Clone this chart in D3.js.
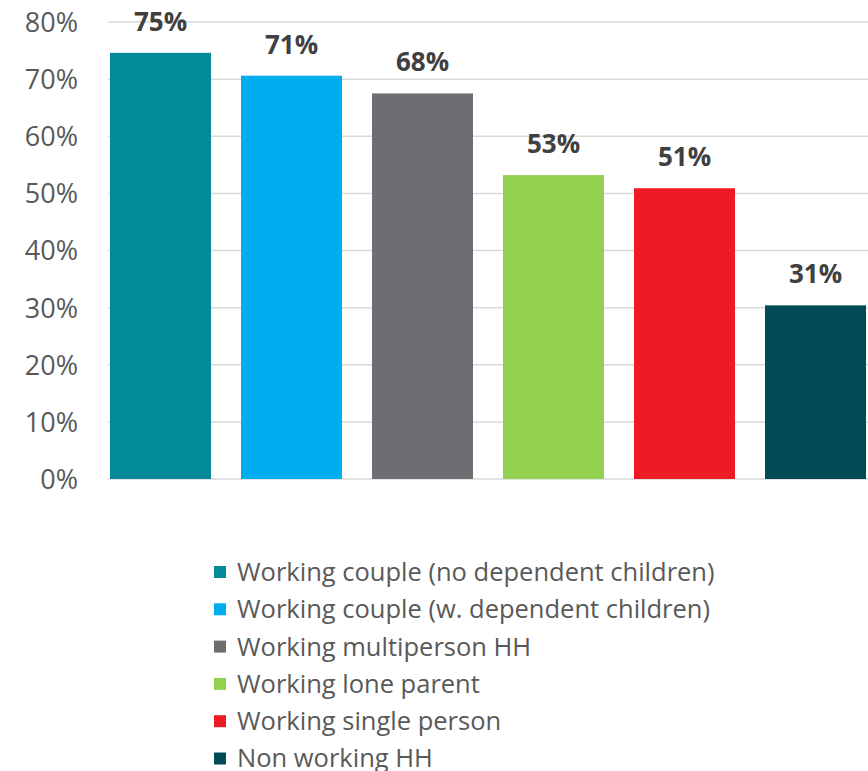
<!DOCTYPE html>
<html>
<head>
<meta charset="utf-8">
<script src="https://cdn.jsdelivr.net/npm/d3@7"></script>
<style>
  body { margin: 0; background: #fff; }
  text { font-family: "Open Sans", sans-serif; }
</style>
</head>
<body>
<div id="chart-area"></div>
<script>
// data
const categories = [
  'Working couple (no dependent children)',
  'Working couple (w. dependent children)',
  'Working multiperson HH',
  'Working lone parent',
  'Working single person',
  'Non working HH'
];
const values = [0.746, 0.706, 0.675, 0.532, 0.509, 0.304];
const valueLabels = ['75%', '71%', '68%', '53%', '51%', '31%'];
const colors = ['#028a99', '#00aeef', '#6d6e71', '#92d050', '#ed1c24', '#004b55'];
const yTicks = [0, 0.1, 0.2, 0.3, 0.4, 0.5, 0.6, 0.7, 0.8];

const width = 868;
const height = 771;

const svg = d3.select('#chart-area')
  .append('svg')
  .attr('width', width)
  .attr('height', height);

// scales
const x = d3.scaleBand()
  .domain(categories)
  .range([95, 881])
  .paddingInner(0.229)
  .paddingOuter(0.1145);

const y = d3.scaleLinear()
  .domain([0, 0.8])
  .range([479, 22]);

// gridlines
svg.append('g')
  .attr('class', 'grid')
  .selectAll('line')
  .data(yTicks)
  .enter()
  .append('line')
  .attr('x1', 108)
  .attr('x2', 881)
  .attr('y1', d => y(d))
  .attr('y2', d => y(d))
  .attr('stroke', '#d9d9d9')
  .attr('stroke-width', 1.5);

// y axis
const yAxisCall = d3.axisLeft(y)
  .tickValues(yTicks)
  .tickFormat(d3.format('.0%'))
  .tickSize(0)
  .tickPadding(0);

const yAxis = svg.append('g')
  .attr('class', 'y-axis')
  .attr('transform', 'translate(78, 0)')
  .call(yAxisCall);
yAxis.select('.domain').remove();
yAxis.selectAll('text')
  .attr('font-size', '27px')
  .attr('fill', '#595959')
  .attr('dy', '0.35em')
  .style('font-family', '"Open Sans", sans-serif');

// bars
svg.append('g')
  .selectAll('rect')
  .data(categories)
  .enter()
  .append('rect')
  .attr('x', d => x(d))
  .attr('y', (d, i) => y(values[i]))
  .attr('width', x.bandwidth())
  .attr('height', (d, i) => y(0) - y(values[i]))
  .attr('fill', (d, i) => colors[i]);

// value labels
svg.append('g')
  .selectAll('text')
  .data(categories)
  .enter()
  .append('text')
  .attr('x', d => x(d) + x.bandwidth() / 2)
  .attr('y', (d, i) => y(values[i]) - 22)
  .attr('text-anchor', 'middle')
  .attr('font-size', '26px')
  .attr('font-weight', 'bold')
  .attr('fill', '#404040')
  .text((d, i) => valueLabels[i]);

// legend
const legend = svg.append('g')
  .attr('class', 'legend')
  .attr('transform', 'translate(214, 572)');

const rows = legend.selectAll('g')
  .data(categories)
  .enter()
  .append('g')
  .attr('transform', (d, i) => `translate(0, ${i * 37.3})`);

rows.append('rect')
  .attr('x', 0)
  .attr('y', -6)
  .attr('width', 12)
  .attr('height', 12)
  .attr('fill', (d, i) => colors[i]);

rows.append('text')
  .attr('x', 23)
  .attr('y', 0)
  .attr('dy', '0.35em')
  .attr('font-size', '25.5px')
  .attr('fill', '#595959')
  .text(d => d);
</script>
</body>
</html>
